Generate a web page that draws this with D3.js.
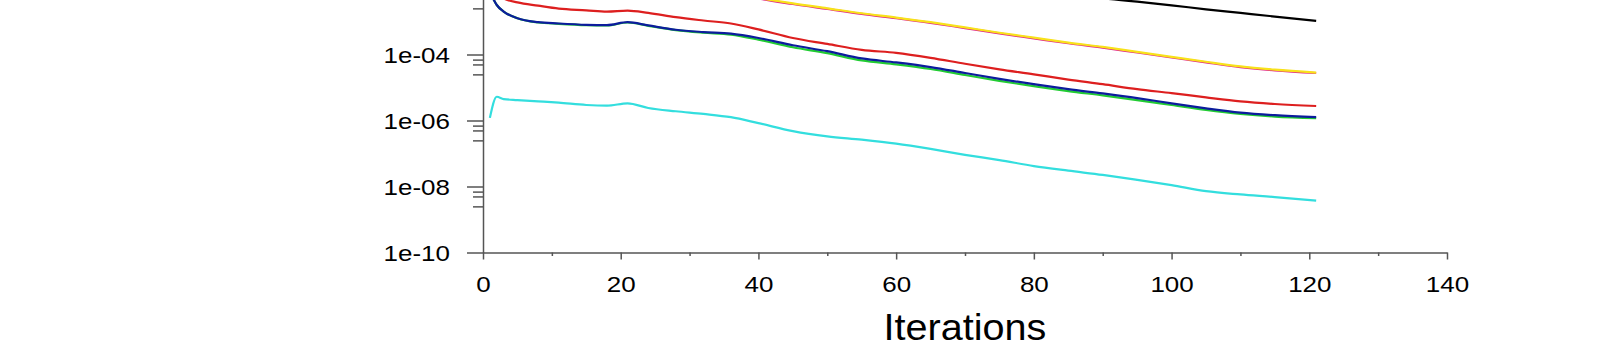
<!DOCTYPE html>
<html>
<head>
<meta charset="utf-8">
<script src="https://cdn.jsdelivr.net/npm/d3@7"></script>
<style>
  body { margin: 0; background: #fff; }
  svg { display: block; }
  text { font-family: 'Liberation Sans', Arial, sans-serif; fill: #000; }
</style>
</head>
<body>
<script>
const svgWidth = 1614;
const svgHeight = 354;

const iterations = [1, 2, 3, 5, 8, 11, 15, 18, 21, 24, 28, 32, 36, 40, 45, 50, 55, 60, 65, 70, 75, 80, 85, 90, 95, 100, 105, 110, 115, 121];

// residuals, stored as log10 values
const blackLog  = [0.0, -0.2, -0.3, -0.4, -0.5, -0.55, -0.6, -0.62, -0.6, -0.7, -0.8, -0.9, -1.0, -1.15, -1.3, -1.45, -1.6, -1.72, -1.84, -1.95, -2.05, -2.14, -2.22, -2.30, -2.40, -2.51, -2.63, -2.74, -2.85, -2.98];
const yellowLog = [-1.0, -1.2, -1.3, -1.45, -1.55, -1.62, -1.68, -1.70, -1.66, -1.75, -1.88, -1.98, -2.08, -2.28, -2.45, -2.60, -2.75, -2.88, -3.02, -3.18, -3.34, -3.49, -3.64, -3.77, -3.92, -4.07, -4.22, -4.36, -4.46, -4.55];
const magentaLog = [-1.02, -1.22, -1.32, -1.47, -1.57, -1.64, -1.70, -1.72, -1.68, -1.77, -1.90, -2.00, -2.10, -2.30, -2.47, -2.62, -2.77, -2.90, -3.04, -3.20, -3.36, -3.51, -3.66, -3.79, -3.94, -4.09, -4.24, -4.38, -4.48, -4.56];
const redLog    = [-1.9, -2.1, -2.30, -2.42, -2.52, -2.61, -2.66, -2.70, -2.67, -2.74, -2.87, -2.97, -3.06, -3.24, -3.50, -3.68, -3.86, -3.95, -4.10, -4.28, -4.45, -4.60, -4.76, -4.90, -5.05, -5.17, -5.30, -5.42, -5.50, -5.56];
const greenLog  = [-2.1, -2.5, -2.70, -2.90, -3.03, -3.07, -3.11, -3.12, -3.03, -3.13, -3.26, -3.34, -3.40, -3.55, -3.78, -3.96, -4.18, -4.30, -4.44, -4.62, -4.80, -4.96, -5.11, -5.24, -5.38, -5.53, -5.68, -5.80, -5.88, -5.93];
const blueLog   = [-2.1, -2.5, -2.70, -2.90, -3.02, -3.06, -3.10, -3.11, -3.02, -3.12, -3.25, -3.32, -3.37, -3.50, -3.72, -3.90, -4.12, -4.24, -4.38, -4.56, -4.74, -4.90, -5.05, -5.18, -5.32, -5.48, -5.63, -5.76, -5.84, -5.90];
const cyanLog   = [-5.92, -5.28, -5.35, -5.38, -5.42, -5.46, -5.53, -5.55, -5.48, -5.62, -5.72, -5.80, -5.90, -6.08, -6.32, -6.48, -6.58, -6.70, -6.86, -7.04, -7.20, -7.38, -7.52, -7.65, -7.80, -7.96, -8.14, -8.24, -8.32, -8.43];

const xTicks = [0, 20, 40, 60, 80, 100, 120, 140];
const xMinorTicks = [10, 30, 50, 70, 90, 110, 130];
const yTicks = [1e-10, 1e-8, 1e-6, 1e-4];
const yTickLabels = ['1e-10', '1e-08', '1e-06', '1e-04'];
const yMinorBases = [1e-8, 1e-6, 1e-4, 1e-2];
const yMinorFactors = [0.7, 0.5, 0.25];

const svg = d3.select('body')
              .append('svg')
              .attr('width', svgWidth)
              .attr('height', svgHeight);

const x = d3.scaleLinear().domain([0, 140]).range([483, 1447]);
const y = d3.scaleLog().domain([1e-10, 1e-2]).range([252.5, -11.5]);

const series = [
  { color: '#33dede', values: cyanLog },
  { color: '#22cc33', values: greenLog },
  { color: '#0c1c9c', values: blueLog },
  { color: '#dd1f1f', values: redLog },
  { color: '#e0248a', values: magentaLog },
  { color: '#f8e21a', values: yellowLog },
  { color: '#000000', values: blackLog }
];

const line = d3.line()
               .x(d => x(d[0]))
               .y(d => y(Math.pow(10, d[1])))
               .curve(d3.curveMonotoneX);

svg.selectAll('path.series')
   .data(series)
   .enter()
   .append('path')
   .attr('class', 'series')
   .attr('fill', 'none')
   .attr('stroke', d => d.color)
   .attr('stroke-width', 2.2)
   .attr('d', d => line(iterations.map((it, i) => [it, d.values[i]])));

const axisColor = '#555';

// x axis
const xAxis = svg.append('g')
                 .attr('transform', 'translate(0,252.5)')
                 .call(d3.axisBottom(x).tickValues(xTicks).tickSize(7).tickSizeOuter(0));
xAxis.select('.domain').attr('stroke', axisColor).attr('stroke-width', 1.5);
xAxis.selectAll('line').attr('stroke', axisColor).attr('stroke-width', 1.5);
xAxis.selectAll('text')
     .attr('y', 40)
     .attr('dy', 0)
     .attr('transform', 'scale(1.18,1)')
     .style('font-size', '22px')
     .style('font-family', "'Liberation Sans', Arial, sans-serif")
     .attr('fill', '#000');

const xMinor = svg.append('g')
                  .attr('transform', 'translate(0,252.5)')
                  .call(d3.axisBottom(x).tickValues(xMinorTicks).tickSize(3.5).tickFormat(''));
xMinor.select('.domain').remove();
xMinor.selectAll('line').attr('stroke', axisColor).attr('stroke-width', 1.5);

// y axis
const yAxis = svg.append('g')
                 .attr('transform', 'translate(483,0)')
                 .call(d3.axisLeft(y).tickValues(yTicks).tickFormat((d, i) => yTickLabels[i]).tickSize(16).tickSizeOuter(0));
yAxis.select('.domain').attr('stroke', axisColor).attr('stroke-width', 1.5);
yAxis.selectAll('line').attr('stroke', axisColor).attr('stroke-width', 1.5);
yAxis.selectAll('text')
     .attr('x', -28)
     .attr('dy', '0.36em')
     .attr('transform', 'scale(1.18,1)')
     .style('font-size', '22px')
     .style('font-family', "'Liberation Sans', Arial, sans-serif")
     .attr('fill', '#000');

const yMinorValues = [];
yMinorBases.forEach(t => yMinorFactors.forEach(f => yMinorValues.push(t * f)));
const yMinor = svg.append('g')
                  .attr('transform', 'translate(483,0)')
                  .call(d3.axisLeft(y).tickValues(yMinorValues).tickSize(10).tickFormat(''));
yMinor.select('.domain').remove();
yMinor.selectAll('line').attr('stroke', axisColor).attr('stroke-width', 1.5);

// axis title
svg.append('text')
   .attr('transform', 'translate(965,340) scale(1.07,1)')
   .attr('text-anchor', 'middle')
   .style('font-size', '37px')
   .text('Iterations');
</script>
</body>
</html>
